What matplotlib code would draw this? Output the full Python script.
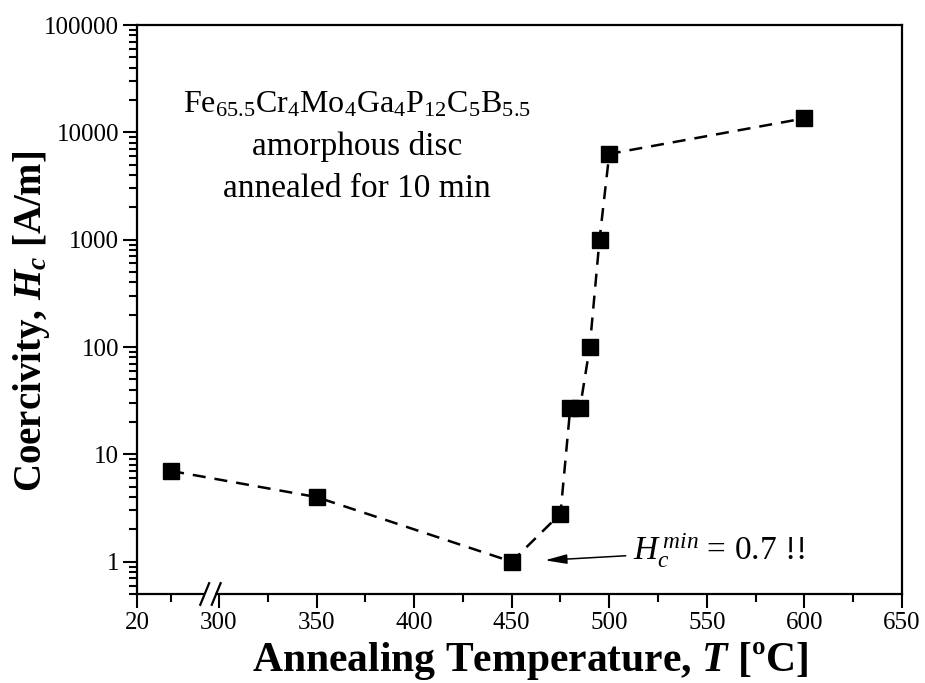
import numpy as np
import matplotlib
matplotlib.use("Agg")
import matplotlib.pyplot as plt
from matplotlib.patches import Rectangle

plt.rcParams["font.family"] = ["Liberation Serif", "DejaVu Serif"]
plt.rcParams["mathtext.fontset"] = "custom"
plt.rcParams["mathtext.rm"] = "Liberation Serif"
plt.rcParams["mathtext.it"] = "Liberation Serif:italic:bold"
plt.rcParams["mathtext.bf"] = "Liberation Serif:bold"
plt.rcParams["mathtext.sf"] = "Liberation Serif:italic"

# Annealing temperature (°C) and coercivity (A/m); 25 °C is the as-cast disc
temperature = [25, 350, 450, 475, 480, 485, 490, 495, 500, 600]
coercivity = [7.0, 4.0, 1.0, 2.8, 27, 27, 100, 1000, 6300, 13500]

major_ticks = [20, 300, 350, 400, 450, 500, 550, 600, 650]
major_labels = ["20", "300", "350", "400", "450", "500", "550", "600", "650"]
minor_ticks = [25, 325, 375, 425, 475, 525, 575, 625]

# Broken temperature axis: short room-temperature segment, then 300-650 °C
seg_T = [-1000, 20, 30, 300, 650, 5000]
seg_X = [258 - 1020 * 3.5, 258, 293, 300, 650, 5000]


def fwd(t):
    return np.interp(t, seg_T, seg_X)


def inv(x):
    return np.interp(x, seg_X, seg_T)


fig = plt.figure(figsize=(9.25, 6.83), dpi=100)
ax = fig.add_axes([137 / 925, 1 - 594 / 683, 765 / 925, 569 / 683])
ax.set_xscale("function", functions=(fwd, inv))
ax.set_yscale("log")
ax.set_xlim(20, 650)
ax.set_ylim(0.5, 100000)

ax.plot(temperature, coercivity, color="black", lw=1.8, dashes=(5.2, 3.6),
        marker="s", ms=11.5, mfc="black", mec="black", zorder=3)

ax.set_xticks(major_ticks)
ax.set_xticklabels(major_labels)
ax.set_xticks(minor_ticks, minor=True)
ax.set_yticks([1, 10, 100, 1000, 10000, 100000])
ax.set_yticklabels(["1", "10", "100", "1000", "10000", "100000"])
ax.yaxis.set_minor_locator(matplotlib.ticker.LogLocator(base=10, subs=np.arange(2, 10)))
ax.yaxis.set_minor_formatter(matplotlib.ticker.NullFormatter())

ax.tick_params(axis="both", which="major", direction="out", length=10, width=1.5,
               labelsize=18, top=False, right=False, pad=3)
ax.tick_params(axis="both", which="minor", direction="out", length=6, width=1.5,
               top=False, right=False)
for s in ax.spines.values():
    s.set_linewidth(1.6)

# Break marks on the temperature axis
gap = Rectangle((0.0895, -0.01), 0.0125, 0.02, transform=ax.transAxes,
                facecolor="white", edgecolor="none", clip_on=False, zorder=5)
ax.add_patch(gap)
for xc in (0.0885, 0.1035):
    ax.plot([xc - 0.0058, xc + 0.0058], [-0.019, 0.019], transform=ax.transAxes,
            color="black", lw=1.6, clip_on=False, zorder=6)

ax.set_xlabel(r"Annealing Temperature, $T$ [ºC]", fontsize=30, fontweight="bold")
ax.xaxis.set_label_coords(0.514, -0.081)
ax.set_ylabel(r"Coercivity, $H_c$ [A/m]", fontsize=28, fontweight="bold")
ax.yaxis.set_label_coords(-0.111, 0.48)

ax.text(0.288, 0.847,
        r"$\mathrm{Fe}_{65.5}\mathrm{Cr}_{4}\mathrm{Mo}_{4}\mathrm{Ga}_{4}"
        r"\mathrm{P}_{12}\mathrm{C}_{5}\mathrm{B}_{5.5}$",
        transform=ax.transAxes, ha="center", va="baseline", fontsize=23)
ax.text(0.288, 0.771, "amorphous disc", transform=ax.transAxes,
        ha="center", va="baseline", fontsize=24)
ax.text(0.288, 0.697, "annealed for 10 min", transform=ax.transAxes,
        ha="center", va="baseline", fontsize=24)

ax.annotate(r"$\mathsf{H}_{\mathsf{c}}^{\;\mathsf{min}}$ = 0.7 !!",
            xy=(467, 1.03), xytext=(512, 1.27), fontsize=24,
            ha="left", va="center",
            arrowprops=dict(arrowstyle="-|>,head_length=0.55,head_width=0.12",
                            color="black", lw=1.1, shrinkA=3, shrinkB=0))

fig.savefig("out.png", dpi=100)
